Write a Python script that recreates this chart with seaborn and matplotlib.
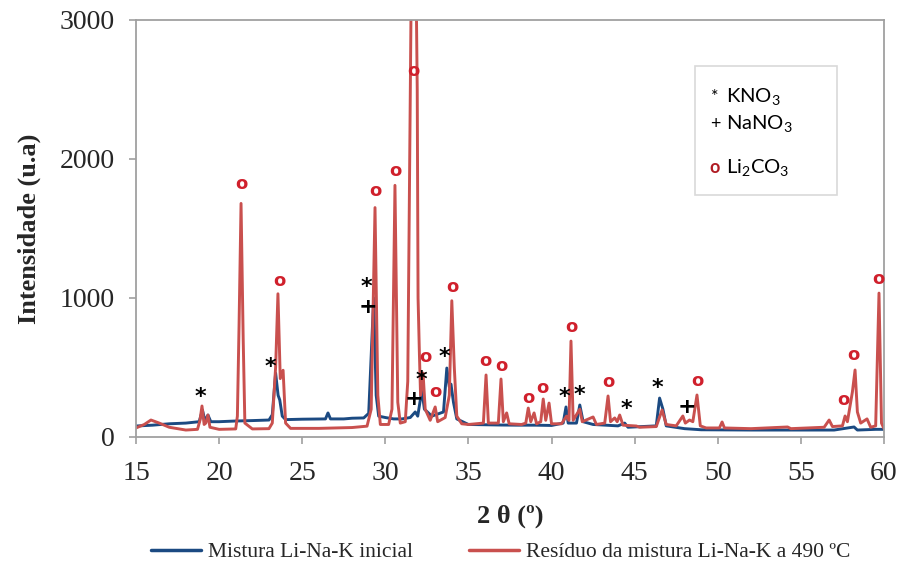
import numpy as np
import pandas as pd
import matplotlib
matplotlib.use("Agg")
import matplotlib.pyplot as plt
import seaborn as sns
from matplotlib.lines import Line2D
from matplotlib.patches import Rectangle

# XRD patterns (2theta in degrees, intensity in a.u.)
theta_inicial = [15.0, 16.0, 17.0, 18.0, 18.8, 19.0, 19.15, 19.33, 19.5, 20.0, 21.0, 22.0,
                 23.0, 23.2, 23.4, 23.55, 23.65, 23.8, 24.0, 25.0, 26.4, 26.55, 26.7, 27.5,
                 28.0, 28.7, 29.0, 29.3, 29.45, 29.6, 30.0, 30.5, 31.0, 31.5, 31.8, 31.95,
                 32.2, 32.35, 32.8, 33.5, 33.7, 33.85, 33.95, 34.1, 34.3, 35.0, 36.0, 37.0,
                 38.0, 39.0, 40.0, 40.7, 40.87, 41.0, 41.5, 41.7, 41.9, 42.5, 44.0, 44.4,
                 44.6, 46.3, 46.5, 46.7, 46.9, 48.0, 49.0, 52.0, 55.0, 57.0, 58.2, 58.4,
                 59.5, 60.0]
int_inicial = [79, 85, 95, 100, 110, 194, 115, 158, 110, 110, 115, 118,
               122, 160, 460, 300, 266, 150, 125, 128, 130, 173, 130, 130,
               135, 137, 170, 1000, 300, 150, 140, 130, 130, 140, 180, 150,
               338, 200, 150, 180, 496, 360, 380, 250, 130, 90, 88, 86,
               85, 85, 83, 100, 216, 100, 100, 230, 110, 90, 80, 100,
               70, 80, 280, 200, 80, 60, 52, 50, 50, 50, 72, 50,
               55, 55]

theta_residuo = [15.0, 15.5, 15.9, 16.4, 17.0, 18.0, 18.7, 18.85, 18.97, 19.1, 19.2, 19.33,
                 19.45, 20.0, 21.0, 21.1, 21.2, 21.32, 21.45, 21.55, 22.0, 23.0, 23.2, 23.4,
                 23.54, 23.68, 23.85, 24.0, 24.3, 26.0, 28.0, 28.9, 29.15, 29.38, 29.55, 29.7,
                 30.2, 30.4, 30.58, 30.75, 30.9, 31.2, 31.35, 31.5, 31.7, 31.92, 31.97, 32.05,
                 32.12, 32.27, 32.4, 32.7, 33.0, 33.15, 33.6, 33.85, 34.0, 34.15, 34.3, 34.6,
                 35.0, 35.9, 36.06, 36.2, 36.8, 36.96, 37.1, 37.3, 37.45, 38.2, 38.45, 38.6,
                 38.75, 38.95, 39.1, 39.35, 39.5, 39.65, 39.85, 40.0, 40.6, 40.9, 41.05, 41.17,
                 41.3, 41.7, 41.85, 42.5, 42.7, 43.2, 43.4, 43.55, 43.8, 43.95, 44.1, 44.3,
                 45.1, 45.3, 46.3, 46.65, 46.9, 47.5, 47.9, 48.05, 48.3, 48.5, 48.75, 48.95,
                 49.3, 50.1, 50.26, 50.4, 52.0, 54.2, 54.4, 56.4, 56.7, 56.9, 57.5, 57.66,
                 57.8, 58.1, 58.26, 58.4, 58.6, 58.98, 59.2, 59.5, 59.7, 59.85, 60.0]
int_residuo = [65, 90, 122, 100, 70, 50, 55, 120, 223, 90, 100, 158,
               70, 55, 58, 150, 800, 1680, 700, 100, 58, 60, 100, 500,
               1030, 420, 480, 100, 62, 62, 68, 78, 200, 1650, 300, 90,
               90, 200, 1810, 250, 100, 110, 400, 2500, 5000, 2500, 1000, 600,
               300, 460, 200, 120, 216, 110, 140, 300, 980, 500, 150, 95,
               90, 100, 446, 100, 100, 417, 110, 173, 95, 90, 100, 208,
               110, 173, 95, 110, 273, 120, 244, 95, 95, 150, 120, 690,
               120, 200, 110, 144, 90, 100, 295, 110, 137, 110, 158, 85,
               79, 70, 75, 194, 90, 80, 151, 100, 122, 110, 302, 80,
               65, 65, 108, 65, 60, 72, 60, 70, 122, 75, 80, 151,
               110, 324, 482, 180, 100, 130, 70, 80, 1035, 100, 60]

# phase markers (2theta, intensity)
kno3_theta = [18.85, 23.06, 28.84, 32.2, 33.53, 40.75, 41.7, 44.48, 46.35]
kno3_int = [288, 503, 1080, 410, 575, 288, 302, 201, 352]
nano3_theta = [28.96, 31.7, 48.15]
nano3_int = [935, 270, 216]
li2co3_theta = [21.32, 23.6, 29.38, 30.58, 31.67, 32.4, 33.0, 34.01, 36.0, 36.96,
                38.59, 39.43, 41.17, 43.4, 48.75, 57.54, 58.14, 59.65]
li2co3_int = [1819, 1122, 1769, 1913, 2632, 575, 324, 1078, 546, 510,
              280, 352, 791, 396, 403, 266, 590, 1136]

series_names = ["Mistura Li-Na-K inicial", "Resíduo da mistura Li-Na-K a 490 ºC"]
colors = ["#1b4a82", "#c9504e"]

df = pd.concat([
    pd.DataFrame({"theta": theta_inicial, "I": int_inicial, "amostra": series_names[0]}),
    pd.DataFrame({"theta": theta_residuo, "I": int_residuo, "amostra": series_names[1]}),
])

sns.set_style("white")
plt.rcParams["font.family"] = ["Liberation Serif", "DejaVu Serif"]
plt.rcParams["mathtext.fontset"] = "custom"
plt.rcParams["mathtext.rm"] = "Liberation Serif"
plt.rcParams["mathtext.sf"] = "Lato"

fig = plt.figure(figsize=(9, 5.69), dpi=100)
ax = fig.add_axes([0.1511, 0.232, 0.8311, 0.733])

sns.lineplot(data=df, x="theta", y="I", hue="amostra", palette=colors,
             linewidth=2.1, sort=False, estimator=None, legend=False, ax=ax)

ax.set_xlim(15, 60)
ax.set_ylim(0, 3000)
ax.set_xticks(np.arange(15, 61, 5))
ax.set_yticks([0, 1000, 2000, 3000])
ax.tick_params(axis="both", labelsize=20, length=5, width=1.2, color="#a0a0a0",
               direction="out", bottom=True, left=True)
ax.tick_params(axis="x", pad=12)
ax.tick_params(axis="y", pad=10)
for lbl in ax.get_xticklabels() + ax.get_yticklabels():
    lbl.set_fontfamily("Liberation Serif")
for sp in ax.spines.values():
    sp.set_color("#a0a0a0")
    sp.set_linewidth(1.3)

ax.set_xlabel("2 θ (º)", fontsize=19, fontweight="bold", labelpad=14,
              family=["Liberation Serif", "DejaVu Serif"])
ax.set_ylabel("Intensidade (u.a)", fontsize=19, fontweight="bold", labelpad=14,
              family="Liberation Serif")

# phase symbols on the peaks
for t, v in zip(kno3_theta, kno3_int):
    ax.text(t, v, "*", fontsize=16, fontweight="bold", ha="center", va="center",
            family="DejaVu Sans", color="black")
for t, v in zip(nano3_theta, nano3_int):
    ax.text(t, v, "+", fontsize=16, fontweight="bold", ha="center", va="center",
            family="DejaVu Sans", color="black")
for t, v in zip(li2co3_theta, li2co3_int):
    ax.text(t, v, "o", fontsize=13, fontweight="bold", ha="center", va="center",
            family="DejaVu Sans", color="#d0202c")

# phase key box
ax.add_patch(Rectangle((0.747, 0.58), 0.19, 0.31, transform=ax.transAxes,
                       facecolor="white", edgecolor="#d9d9d9", linewidth=1.2, zorder=5))
key = [("*", "KNO$_\\mathsf{3}$", "black", 0.815), ("+", "NaNO$_\\mathsf{3}$", "black", 0.75),
       ("o", "Li$_\\mathsf{2}$CO$_\\mathsf{3}$", "#b01c24", 0.645)]
for sym, lab, c, y in key:
    ax.text(0.774, y, sym, transform=ax.transAxes, fontsize=13, color=c,
            family="Lato", fontweight="bold" if sym == "o" else "normal",
            ha="center", va="center", zorder=6)
    ax.text(0.789, y, lab, transform=ax.transAxes, fontsize=14.5, color="black",
            family="Lato", ha="left", va="center", zorder=6)

handles = [Line2D([], [], color=c, linewidth=2.5) for c in colors]
fig.legend(handles, series_names, loc="lower center", bbox_to_anchor=(0.556, -0.022),
           ncol=2, frameon=False, fontsize=15.5, handlelength=2.35, columnspacing=2.6,
           handletextpad=0.3)

fig.savefig("out.png", dpi=100)
